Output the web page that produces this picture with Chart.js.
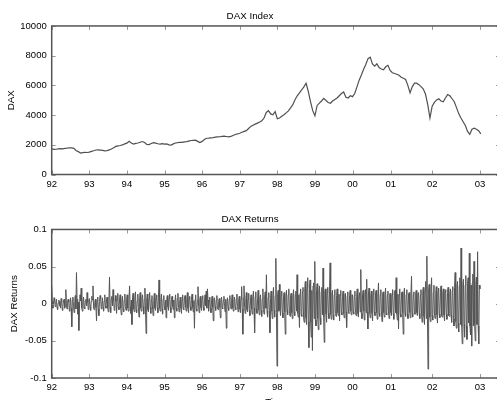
<!DOCTYPE html>
<html>
<head>
<meta charset="utf-8">
<script src="https://cdn.jsdelivr.net/npm/chart.js@4.4.1/dist/chart.umd.min.js"></script>
<style>
  html, body { margin: 0; padding: 0; background: #fff; overflow: hidden; }
  #wrap { position: relative; width: 497px; height: 400px; overflow: hidden; }
  canvas { position: absolute; left: 0; }
  #top { top: 0; }
  #bot { top: 200px; }
</style>
</head>
<body>
<div id="wrap">
  <canvas id="top" width="503" height="200"></canvas>
  <canvas id="bot" width="503" height="215"></canvas>
</div>
<script>
// trading-day index of the first day of each year, and its label
var yearStart  = [0, 255, 510, 765, 1020, 1275, 1530, 1785, 2040, 2300, 2580, 2904];
var yearLabels = ['92', '93', '94', '95', '96', '97', '98', '99', '00', '01', '02', '03'];
var indexTicks  = [0, 2000, 4000, 6000, 8000, 10000];
var returnTicks = [-0.1, -0.05, 0, 0.05, 0.1];

// DAX level, one reading every 15 trading days
var idxStep = 15;
var daxIndex = [
  1720,1690,1700,1730,1740,1720,1760,1770,1800,1790,
  1760,1620,1540,1440,1470,1490,1480,1510,1560,1600,
  1650,1660,1640,1620,1590,1610,1660,1720,1800,1890,
  1930,1950,1990,2060,2110,2230,2120,2050,2090,2120,
  2170,2220,2150,2030,2010,2090,2140,2110,2070,2050,
  2080,2040,2060,2000,1980,2060,2120,2140,2170,2160,
  2200,2210,2250,2290,2300,2310,2230,2150,2230,2350,
  2440,2450,2470,2480,2510,2530,2540,2570,2580,2560,
  2540,2570,2630,2690,2730,2780,2840,2900,2950,3100,
  3240,3320,3390,3460,3530,3620,3800,4180,4300,4080,
  4020,4230,3750,3800,3920,4020,4150,4280,4480,4700,
  5030,5300,5500,5690,5900,6140,5600,4900,4300,3950,
  4650,4800,4950,5130,4980,4850,4800,4950,5050,5150,
  5300,5450,5560,5200,5150,5300,5240,5450,5900,6350,
  6700,7080,7400,7800,7900,7450,7300,7450,7200,7100,
  7050,7250,7350,7000,6850,6800,6750,6680,6550,6480,
  6400,6000,5500,5900,6150,6150,6050,5920,5750,5400,
  4700,3800,4600,4850,5020,5100,4950,4900,5150,5380,
  5300,5100,4900,4500,4100,3800,3550,3300,2900,2700,
  3050,3120,3050,2950,2730
];

// DAX returns, one reading every 4 trading days
var retStep = 4;
var daxReturns = [
  // 92
  .024,.003,-.006,-.002,.008,.004,-.004,.002,.006,-.005,-.008,.001,.005,.003,-.003,-.006,
  .007,.002,-.009,-.004,.004,.006,-.006,-.002,.019,-.005,-.007,.004,.006,.002,-.01,-.003,
  .008,-.006,-.031,.005,.009,-.004,-.012,.003,.011,-.007,.042,.006,-.014,.002,-.036,-.008,
  .012,.004,.021,-.006,-.01,.003,.009,-.005,-.007,.004,.006,-.003,.015,.002,-.008,.005,
  // 93
  .007,-.004,-.009,.003,.01,.005,.024,-.006,-.008,.002,.006,-.005,-.023,.004,.009,-.007,
  -.016,.003,.011,.006,-.007,-.002,.008,-.005,-.01,.004,.012,-.003,-.006,.005,.009,-.006,
  -.011,.004,.036,-.005,-.012,.007,.01,-.003,.019,.004,-.009,-.006,.011,.003,-.013,.006,
  .014,-.004,-.008,.005,.012,-.006,-.015,.004,.01,-.007,-.011,.005,.013,-.004,-.009,.006,
  // 94
  .012,-.006,-.01,.007,.024,-.004,-.013,.005,-.028,.008,.014,-.007,-.011,.006,.016,-.008,
  -.012,.004,.013,-.005,-.018,.007,.015,-.006,-.01,.008,.012,-.004,-.014,.006,.021,-.007,
  -.04,.005,.013,-.008,-.011,.007,.015,-.005,-.013,.006,.011,-.008,-.016,.004,.014,-.006,
  -.009,.007,.012,-.005,-.012,.008,.032,-.006,-.01,.005,.013,-.007,-.014,.006,.011,-.004,
  // 95
  -.008,.005,-.019,.006,.011,-.004,-.009,.007,.013,-.005,-.012,.006,.01,-.003,-.008,.005,
  -.019,.004,.012,-.006,-.01,.007,.014,-.005,-.011,.004,.009,-.006,-.013,.005,.012,-.007,
  -.008,.006,.011,-.004,-.01,.005,.015,-.006,-.012,.007,.01,-.004,-.009,.006,.013,-.005,
  -.011,.004,-.033,.006,.012,-.007,-.01,.005,.023,-.004,-.012,.006,.01,-.005,-.009,.007,
  // 96
  .011,-.005,-.009,.004,.012,-.003,.017,-.006,.02,.005,-.01,.003,.009,-.006,-.012,.004,
  .01,-.005,-.023,.006,.008,-.004,-.009,.005,.011,-.006,-.008,.003,.007,-.005,-.019,.004,
  .009,-.006,-.007,.005,.01,-.004,-.011,.006,-.033,.003,.008,-.005,-.009,.006,.011,-.004,
  -.007,.005,.012,-.006,-.01,.004,.009,-.005,-.008,.006,.013,-.004,-.011,.005,.01,-.007,
  // 97
  -.012,.006,.023,-.007,-.041,.008,.024,-.005,-.013,.007,.015,-.008,-.011,.006,.014,-.009,
  -.016,.005,.012,-.007,-.014,.008,.017,-.006,-.039,.009,.016,-.007,-.013,.005,.018,-.008,
  -.015,.007,.012,-.009,-.017,.006,.02,-.008,-.014,.009,.016,-.006,.039,-.01,-.018,.008,
  .015,-.009,-.039,.007,.017,-.01,-.02,.011,.022,-.009,-.018,.01,.061,-.012,-.084,.012,
  // 98
  .018,-.01,.026,-.008,-.016,.011,.017,-.012,-.019,.009,.015,-.011,-.041,.01,.018,-.009,
  -.015,.012,.02,-.01,-.017,.011,.014,-.012,-.02,.009,.019,-.011,-.016,.012,.017,-.01,
  .039,-.013,-.018,.012,-.032,.014,.02,-.015,-.017,.016,.022,-.018,-.025,.02,.03,-.019,
  -.028,.022,.035,-.024,-.059,.021,.032,-.025,-.045,.018,-.063,.024,.028,-.02,.057,-.022,
  // 99
  -.03,.018,.027,-.02,-.035,.017,.024,-.019,-.028,.016,.022,-.015,.048,-.018,-.052,.016,
  .02,-.014,-.025,.015,.022,-.013,-.02,.016,.055,-.014,-.021,.013,.018,-.015,-.022,.012,
  .019,-.013,-.017,.011,.02,-.012,-.016,.013,-.023,.011,.018,-.012,-.015,.01,.017,-.013,
  -.019,.012,.014,-.011,-.032,.01,.016,-.012,-.013,.011,.018,-.01,-.015,.012,.012,-.011,
  // 00
  -.014,.011,.017,-.012,-.016,.01,.02,-.013,-.018,.012,.015,-.011,.046,-.013,-.02,.012,
  .018,-.01,-.022,.013,.019,-.012,.033,-.011,-.034,.013,.021,-.012,-.019,.011,.017,-.013,
  -.023,.012,.02,-.011,-.016,.013,.018,-.012,-.021,.01,.028,-.013,-.017,.012,.019,-.011,
  -.024,.013,.016,-.012,-.018,.011,.021,-.013,-.015,.012,.017,-.011,-.02,.013,.014,-.012,
  // 01
  -.016,.012,.019,-.013,-.021,.014,.018,-.012,.035,-.014,-.022,.013,-.034,.012,.02,-.014,
  -.018,.013,.016,-.012,-.041,.014,.021,-.013,-.017,.012,.019,-.014,-.02,.013,.015,-.012,
  -.019,.014,.037,-.013,-.018,.012,.016,-.014,-.014,.013,.018,-.012,-.016,.014,.015,-.013,
  -.02,.012,.019,-.015,-.025,.016,.022,-.017,-.028,.018,.03,-.02,.064,-.018,-.088,.02,
  .026,-.018,-.024,.017,.035,-.016,
  // 02
  -.022,.015,.025,-.016,-.02,.014,.023,-.015,-.026,.016,.021,-.014,-.019,.015,.024,-.016,
  -.018,.014,.02,-.015,-.023,.016,.019,-.014,-.021,.015,.022,-.016,-.017,.014,.02,-.015,
  -.025,.018,.023,-.02,-.03,.022,.042,-.024,-.033,.025,.03,-.026,-.038,.024,.035,-.028,
  .075,-.03,-.054,.026,.033,-.028,-.045,.025,.038,-.03,-.048,.027,.035,-.026,.068,-.03,
  -.042,.025,-.057,.028,.04,-.03,.057,-.027,-.05,.026,.036,-.028,.07,-.03,-.054,.025,.02
];

var font = { family: '"Liberation Sans", Arial, Helvetica, sans-serif', size: 9.5 };
var titleFont = { family: '"Liberation Sans", Arial, Helvetica, sans-serif', size: 9.8, weight: 'normal' };

function toPoints(values, step) {
  return values.map(function(v, i) { return { x: i * step, y: v }; });
}

// MATLAB style box with inward tick marks on all four sides
var boxPlugin = {
  id: 'box',
  afterDraw: function(chart) {
    var a = chart.chartArea, ctx = chart.ctx;
    var xs = chart.scales.x, ys = chart.scales.y;
    ctx.save();
    ctx.strokeStyle = '#999';
    ctx.lineWidth = 1;
    ctx.beginPath();
    xs.ticks.forEach(function(t) {
      var px = Math.round(xs.getPixelForValue(t.value)) + 0.5;
      ctx.moveTo(px, a.bottom); ctx.lineTo(px, a.bottom - 4);
      ctx.moveTo(px, a.top); ctx.lineTo(px, a.top + 4);
    });
    ys.ticks.forEach(function(t) {
      var py = Math.round(ys.getPixelForValue(t.value)) + 0.5;
      ctx.moveTo(a.left, py); ctx.lineTo(a.left + 4, py);
      ctx.moveTo(a.right, py); ctx.lineTo(a.right - 4, py);
    });
    ctx.stroke();
    ctx.strokeStyle = '#555';
    ctx.lineWidth = 1.5;
    ctx.strokeRect(a.left, a.top, a.right - a.left, a.bottom - a.top);
    ctx.restore();
  }
};

function makeChart(id, opt) {
  return new Chart(document.getElementById(id), {
    type: 'line',
    data: {
      datasets: [{
        data: opt.points,
        borderColor: opt.color,
        borderWidth: opt.width,
        pointRadius: 0,
        tension: 0,
        fill: false
      }]
    },
    options: {
      responsive: false,
      animation: false,
      events: [],
      layout: { padding: { left: 0, right: 3, top: 0, bottom: 0 } },
      plugins: {
        legend: { display: false },
        tooltip: { enabled: false },
        title: {
          display: true,
          text: opt.title,
          color: '#000',
          font: titleFont,
          padding: opt.titlePad
        }
      },
      scales: {
        x: {
          type: 'linear',
          min: 0,
          max: 3040,
          grid: { display: false, drawTicks: false },
          border: { display: false },
          afterBuildTicks: function(s) {
            s.ticks = yearStart.map(function(v) { return { value: v }; });
          },
          afterFit: function(s) { s.height = opt.xHeight; },
          ticks: {
            autoSkip: false,
            maxRotation: 0,
            minRotation: 0,
            padding: 4,
            color: '#000',
            font: font,
            callback: function(v) { return yearLabels[yearStart.indexOf(v)]; }
          },
          title: opt.xTitle
        },
        y: {
          min: opt.yTicks[0],
          max: opt.yTicks[opt.yTicks.length - 1],
          grid: { display: false, drawTicks: false },
          border: { display: false },
          afterBuildTicks: function(s) {
            s.ticks = opt.yTicks.map(function(v) { return { value: v }; });
          },
          afterFit: function(s) { s.width = 51.7; },
          ticks: {
            padding: 5,
            color: '#000',
            font: font,
            callback: function(v) { return String(v); }
          },
          title: {
            display: true,
            text: opt.yTitle,
            color: '#000',
            font: titleFont,
            padding: { top: opt.yTitlePad, bottom: 0 }
          }
        }
      }
    },
    plugins: [boxPlugin]
  });
}

makeChart('top', {
  points: toPoints(daxIndex, idxStep),
  color: '#505050',
  width: 1.2,
  title: 'DAX Index',
  titlePad: { top: 10, bottom: 4.2 },
  xHeight: 25.5,
  xTitle: { display: false },
  yTicks: indexTicks,
  yTitle: 'DAX',
  yTitlePad: 5.3
});

makeChart('bot', {
  points: toPoints(daxReturns, retStep),
  color: '#555',
  width: 1,
  title: 'DAX Returns',
  titlePad: { top: 13.1, bottom: 4.6 },
  xHeight: 37,
  xTitle: {
    display: true,
    text: 'Time',
    color: '#000',
    font: titleFont,
    padding: { top: 0, bottom: 7.1 }
  },
  yTicks: returnTicks,
  yTitle: 'DAX Returns',
  yTitlePad: 8.1
});
</script>
</body>
</html>
